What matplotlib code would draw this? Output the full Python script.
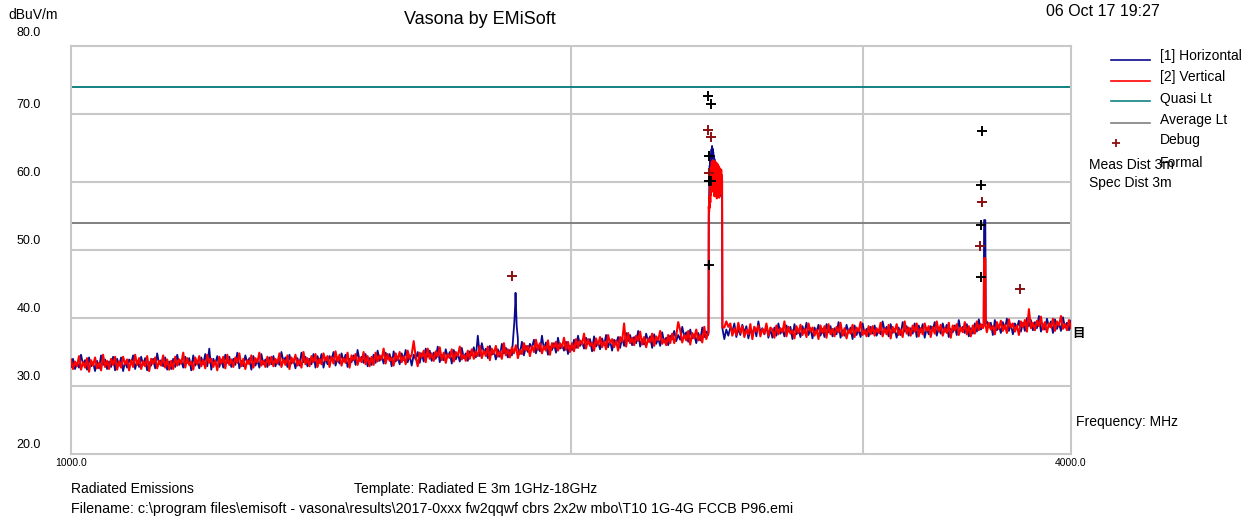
import numpy as np
import matplotlib
matplotlib.use("Agg")
import matplotlib.pyplot as plt
from matplotlib.lines import Line2D

plt.rcParams['font.family'] = ['Liberation Sans', 'DejaVu Sans']

# ---- sweep range (MHz) and limits (dBuV/m) ----
START_MHZ, STOP_MHZ = 1000.0, 4000.0
QUASI_LIMIT = 74.0
AVERAGE_LIMIT = 54.0

y_ticks = [20, 30, 40, 50, 60, 70, 80]
y_tick_labels = ['20.0', '30.0', '40.0', '50.0', '60.0', '70.0', '80.0']
x_grid = [2000, 3000]
x_tick_labels = ['1000.0', '4000.0']

# ---- noise floor of each polarisation, evenly spaced on the log frequency axis ----
h_floor = [
    32.8, 34.0, 32.5, 33.4, 32.7, 34.6, 33.2, 33.8, 32.4, 34.2, 32.9, 33.5, 32.2, 33.7, 32.6, 34.5, 33.1, 33.9, 32.5, 33.6, 32.8, 34.3, 32.3, 34.0, 33.0,
    34.2, 32.2, 33.6, 32.7, 33.9, 33.3, 34.5, 32.5, 33.7, 32.8, 34.3, 33.1, 34.1, 32.3, 33.5, 33.0, 34.0, 32.6, 34.8, 33.2, 33.8, 32.9, 34.2, 32.4, 33.6,
    32.5, 34.0, 32.8, 34.6, 33.1, 33.8, 32.7, 34.3, 33.4, 34.1, 32.3, 34.5, 33.0, 33.7, 32.6, 34.2, 33.2, 34.7, 32.9, 35.5, 32.4, 34.0, 33.3, 34.4, 32.8,
    33.9, 32.7, 34.6, 33.4, 34.3, 32.8, 34.0, 33.1, 34.9, 32.6, 33.7, 32.9, 34.5, 33.3, 34.1, 32.4, 34.4, 33.0, 33.8, 32.7, 34.7, 33.2, 33.9, 32.8, 34.2,
    33.2, 34.4, 32.9, 33.8, 33.1, 35.0, 33.6, 34.2, 32.8, 34.6, 33.3, 33.9, 32.6, 34.1, 33.0, 34.9, 33.5, 34.3, 32.9, 34.0, 33.2, 34.7, 32.7, 34.4, 33.4,
    34.7, 32.7, 34.1, 33.2, 34.4, 33.8, 35.0, 33.0, 34.2, 33.3, 34.8, 33.6, 34.6, 32.8, 34.0, 33.5, 34.5, 33.1, 35.3, 33.7, 34.3, 33.4, 34.7, 32.9, 34.1,
    33.1, 34.6, 33.4, 35.2, 33.7, 34.4, 33.3, 34.9, 34.0, 34.7, 32.9, 35.1, 33.6, 34.3, 33.2, 34.8, 33.8, 35.3, 33.5, 34.5, 33.0, 34.6, 33.9, 35.0, 33.4,
    34.8, 33.6, 35.5, 34.3, 35.2, 33.7, 34.9, 34.0, 35.8, 33.5, 34.6, 33.8, 35.4, 34.2, 35.0, 33.3, 35.3, 33.9, 34.7, 33.6, 35.6, 34.1, 34.8, 33.7, 35.1,
    34.5, 35.7, 34.2, 37.4, 34.4, 36.3, 34.9, 35.5, 34.1, 35.9, 34.6, 35.2, 33.9, 35.4, 34.3, 36.2, 34.8, 35.6, 34.2, 35.3, 34.5, 36.0, 34.0, 35.7, 34.7,
    36.5, 34.5, 35.9, 35.0, 36.2, 35.6, 36.8, 34.8, 36.0, 35.1, 37.4, 35.4, 36.4, 34.6, 35.8, 35.3, 36.3, 34.9, 37.1, 35.5, 36.1, 35.2, 36.5, 34.7, 35.9,
    35.3, 36.8, 35.6, 37.4, 35.9, 36.6, 35.5, 37.1, 36.2, 36.9, 35.1, 37.3, 35.8, 36.5, 35.4, 37.0, 36.0, 37.5, 35.7, 36.7, 35.2, 36.8, 36.1, 37.2, 35.6,
    37.1, 35.9, 37.8, 36.6, 37.5, 36.0, 37.2, 36.3, 38.1, 35.8, 36.9, 36.1, 37.7, 36.5, 37.3, 35.6, 37.6, 36.2, 37.0, 35.9, 37.9, 36.4, 37.1, 36.0, 37.4,
    36.9, 38.1, 36.6, 37.5, 36.8, 38.7, 37.3, 37.9, 36.5, 38.3, 37.0, 37.6, 36.3, 37.8, 36.7, 38.6, 37.2, 38.0, 37.5, 38.1, 37.6, 38.4, 37.9, 38.2, 37.8,
    38.9, 36.9, 38.3, 37.4, 38.6, 38.0, 39.2, 37.2, 38.4, 37.5, 39.0, 37.8, 38.8, 37.0, 38.2, 37.7, 38.7, 37.3, 39.5, 37.9, 38.5, 37.6, 38.9, 37.1, 38.3,
    37.1, 38.6, 37.4, 39.2, 37.7, 38.4, 37.3, 38.9, 38.0, 38.7, 36.9, 39.1, 37.6, 38.3, 37.2, 38.8, 37.8, 39.3, 37.5, 38.5, 37.0, 38.6, 37.9, 39.0, 37.4,
    38.4, 37.2, 39.1, 37.9, 38.8, 37.3, 38.5, 37.6, 39.4, 37.1, 38.2, 37.4, 39.0, 37.8, 38.6, 36.9, 38.9, 37.5, 38.3, 37.2, 39.2, 37.7, 38.4, 37.3, 38.7,
    37.7, 38.9, 37.4, 38.3, 37.6, 39.5, 38.1, 38.7, 37.3, 39.1, 37.8, 38.4, 37.1, 38.6, 37.5, 39.4, 38.0, 38.8, 37.4, 38.5, 37.7, 39.2, 37.2, 38.9, 37.9,
    39.1, 37.1, 38.5, 37.6, 38.8, 38.2, 39.4, 37.4, 38.6, 37.7, 39.2, 38.0, 39.0, 37.2, 38.4, 37.9, 38.9, 37.5, 39.7, 38.1, 38.7, 37.8, 39.1, 37.3, 38.5,
    37.7, 39.2, 38.0, 39.8, 38.3, 39.0, 37.9, 39.5, 38.6, 39.3, 37.5, 39.7, 38.2, 38.9, 37.8, 39.4, 38.4, 39.9, 38.1, 39.1, 37.6, 39.2, 38.5, 39.6, 38.0,
    39.3, 38.1, 40.0, 38.8, 39.7, 38.2, 39.4, 38.5, 40.3, 38.0, 39.1, 38.3, 39.9, 38.7, 39.5, 37.8, 39.8, 38.4, 39.2, 38.1, 40.1, 38.6, 39.3, 38.2, 39.6,
]

v_floor = [
    33.9, 32.5, 33.6, 32.9, 34.4, 32.4, 33.5, 32.7, 34.1, 32.1, 33.8, 33.0, 34.2, 32.6, 33.4, 32.3, 34.6, 32.8, 33.7, 32.5, 34.0, 33.1, 34.3, 32.4, 33.6,
    32.7, 34.3, 33.2, 33.9, 32.3, 33.8, 32.8, 34.6, 33.1, 34.1, 32.5, 33.6, 32.9, 34.4, 32.2, 34.0, 33.3, 34.2, 32.6, 33.7, 33.0, 34.5, 32.7, 33.9, 32.4,
    33.7, 32.5, 34.3, 33.0, 33.9, 33.3, 34.9, 32.7, 34.1, 33.1, 33.6, 32.4, 34.2, 33.2, 34.4, 32.9, 33.8, 32.6, 34.6, 33.4, 34.0, 32.8, 33.7, 32.3, 34.3,
    33.3, 34.3, 32.6, 34.6, 33.1, 33.9, 32.8, 34.2, 33.4, 34.8, 32.9, 34.0, 32.5, 33.8, 33.2, 34.5, 32.7, 34.1, 33.5, 34.9, 33.0, 33.7, 32.8, 34.3, 33.1,
    34.3, 32.9, 34.0, 33.3, 34.8, 32.8, 33.9, 33.1, 34.5, 32.5, 34.2, 33.4, 34.6, 33.0, 33.8, 32.7, 35.0, 33.2, 34.1, 32.9, 34.4, 33.5, 34.7, 32.8, 34.0,
    33.2, 34.8, 33.7, 34.4, 32.8, 34.3, 33.3, 35.1, 33.6, 34.6, 33.0, 34.1, 33.4, 34.9, 32.7, 34.5, 33.8, 34.7, 33.1, 34.2, 33.5, 35.0, 33.2, 34.4, 32.9,
    34.3, 33.1, 34.9, 33.6, 34.5, 33.9, 35.5, 33.3, 34.7, 33.7, 34.2, 33.0, 34.8, 33.8, 35.0, 33.5, 34.4, 33.2, 35.2, 34.0, 34.6, 36.6, 34.3, 32.9, 34.9,
    34.2, 35.2, 33.5, 35.5, 34.0, 34.8, 33.7, 35.1, 34.3, 35.7, 33.8, 34.9, 33.4, 34.7, 34.1, 35.4, 33.6, 35.0, 34.4, 35.8, 33.9, 34.6, 33.7, 35.2, 34.0,
    35.4, 34.0, 35.1, 34.4, 35.9, 34.1, 35.2, 34.4, 35.8, 33.8, 35.5, 34.7, 35.9, 34.3, 35.1, 34.0, 36.3, 34.5, 35.4, 34.2, 35.7, 34.8, 36.0, 34.1, 35.3,
    34.7, 36.3, 35.2, 35.9, 34.4, 35.9, 35.0, 36.8, 35.3, 36.3, 34.8, 35.9, 35.2, 36.7, 34.6, 36.3, 35.6, 36.5, 35.2, 36.3, 35.6, 37.1, 35.3, 36.5, 35.0,
    36.3, 35.1, 36.9, 35.6, 36.7, 36.1, 37.7, 35.5, 36.9, 35.9, 36.4, 35.2, 37.0, 36.0, 37.2, 35.7, 36.6, 35.4, 37.5, 36.3, 36.9, 35.7, 36.7, 35.2, 37.2,
    36.5, 39.2, 35.8, 37.8, 36.3, 37.1, 36.0, 37.4, 36.6, 38.0, 36.1, 37.2, 35.7, 37.0, 36.4, 37.7, 35.9, 37.3, 36.7, 38.1, 36.2, 36.9, 36.0, 37.5, 36.3,
    37.7, 36.3, 37.4, 39.4, 38.2, 36.4, 37.5, 36.7, 38.1, 36.1, 37.8, 37.0, 38.3, 36.7, 37.5, 36.4, 38.7, 36.9, 37.8, 37.0, 38.0, 37.6, 38.2, 37.5, 38.0,
    37.8, 38.6, 39.5, 38.7, 39.2, 37.4, 38.5, 37.5, 39.3, 37.8, 38.8, 37.2, 38.3, 37.6, 39.1, 36.9, 38.7, 38.0, 38.9, 37.3, 38.4, 37.7, 39.2, 37.4, 38.6,
    38.3, 37.1, 38.9, 37.6, 38.5, 37.9, 39.5, 37.3, 38.7, 37.7, 38.2, 37.0, 38.8, 37.8, 39.0, 37.5, 38.4, 37.2, 39.2, 38.0, 38.6, 37.4, 38.3, 36.9, 38.9,
    37.8, 38.8, 37.1, 39.1, 37.6, 38.4, 37.3, 38.7, 37.9, 39.3, 37.4, 38.5, 37.0, 38.3, 37.7, 39.0, 37.2, 38.6, 38.0, 39.4, 37.5, 38.2, 37.3, 38.8, 37.6,
    38.8, 37.4, 38.5, 37.8, 39.3, 37.3, 38.4, 37.6, 39.0, 37.0, 38.7, 37.9, 39.1, 37.5, 38.3, 37.2, 39.5, 37.7, 38.6, 37.4, 38.9, 38.0, 39.2, 37.3, 38.5,
    37.6, 39.2, 38.1, 38.8, 37.2, 38.7, 37.7, 39.5, 38.0, 39.0, 37.4, 38.5, 37.8, 39.3, 37.1, 38.9, 38.2, 39.1, 37.5, 38.6, 37.9, 39.4, 37.6, 38.8, 37.3,
    38.9, 37.7, 39.5, 38.2, 39.1, 38.5, 40.1, 37.9, 39.3, 38.3, 38.8, 37.6, 39.4, 38.4, 39.6, 38.1, 39.0, 37.8, 39.8, 38.6, 39.2, 38.0, 38.9, 37.5, 39.5,
    38.7, 39.7, 38.0, 41.3, 38.5, 39.3, 38.2, 39.6, 38.8, 40.2, 38.3, 39.4, 37.9, 39.2, 38.6, 39.9, 38.1, 39.5, 38.9, 40.3, 38.4, 39.1, 38.2, 39.7, 38.5,
]

# ---- emissions above the floor (MHz, dBuV/m) ----
spur1_freq_h = [1846, 1849, 1851, 1852, 1853, 1855, 1858]
spur1_level_h = [37.2, 39.5, 41.8, 43.7, 42.0, 38.8, 37.0]

band_freq = list(range(2420, 2468))
band_level_h = [
    37.9, 55.0, 57.5, 59.8, 62.4, 61.2, 63.5, 62.0, 64.1, 63.0, 64.8, 63.6, 65.3, 64.2, 64.9, 63.5,
    64.4, 62.8, 63.9, 62.5, 63.4, 61.8, 63.0, 61.5, 62.6, 60.4, 62.1, 59.8, 61.7, 59.5, 61.2, 58.9,
    60.8, 59.4, 60.5, 58.7, 60.2, 59.0, 60.6, 58.5, 60.0, 58.2, 59.6, 57.9, 59.1, 58.0, 58.6, 38.5,
]
band_level_v = [
    38.0, 56.4, 55.6, 57.9, 56.2, 59.4, 57.0, 60.8, 58.1, 62.2, 59.0, 62.9, 60.3, 63.1, 58.6, 62.5,
    61.0, 63.2, 59.8, 62.7, 57.9, 62.4, 60.6, 63.0, 58.4, 62.1, 60.2, 62.8, 57.6, 61.9, 59.5, 62.6,
    58.8, 61.5, 60.0, 62.3, 57.7, 61.6, 59.2, 62.0, 58.3, 61.4, 59.6, 61.8, 58.9, 61.0, 60.2, 38.6,
]

spur2_freq = [3544, 3546, 3552, 3554]
spur2_level_h = [39.0, 54.4, 54.4, 39.2]
spur2_level_v = [38.8, 48.8, 48.8, 38.9]

# ---- measured points ----
debug_freq = [1842, 2417, 2428, 2420, 3536, 3528, 3725]
debug_level = [46.2, 67.7, 66.6, 61.3, 57.1, 50.6, 44.2]
formal_freq = [2419, 2428, 2423, 2421, 2427, 2423, 3536, 3530, 3533, 3530]
formal_level = [72.7, 71.5, 63.8, 60.2, 60.2, 47.8, 67.5, 59.5, 53.7, 46.0]


def build_trace(floor, bursts):
    """Merge the floor sweep with the emission segments into one trace."""
    f = np.geomspace(START_MHZ, STOP_MHZ, len(floor))
    v = np.asarray(floor, float)
    keep = np.ones(len(f), bool)
    for bf, _ in bursts:
        keep &= ~((f > min(bf)) & (f < max(bf)))
    f_all = np.concatenate([f[keep]] + [np.asarray(bf, float) for bf, _ in bursts])
    v_all = np.concatenate([v[keep]] + [np.asarray(bv, float) for _, bv in bursts])
    order = np.argsort(f_all, kind='stable')
    return f_all[order], v_all[order]


h_f, h_v = build_trace(h_floor, [(spur1_freq_h, spur1_level_h),
                                 (band_freq, band_level_h),
                                 (spur2_freq, spur2_level_h)])
v_f, v_v = build_trace(v_floor, [(band_freq, band_level_v),
                                 (spur2_freq, spur2_level_v)])

# ---- figure ----
W, H = 1246, 520
fig = plt.figure(figsize=(W / 100, H / 100), dpi=100)
L, R, T, B = 71, 1071, 46, 454
ax = fig.add_axes([L / W, 1 - B / H, (R - L) / W, (B - T) / H])

ax.set_xscale('log')
ax.set_xlim(START_MHZ, STOP_MHZ)
ax.set_ylim(20, 80)
ax.set_xticks(x_grid)
ax.xaxis.set_minor_locator(matplotlib.ticker.NullLocator())
ax.set_yticks(y_ticks[1:-1])
ax.tick_params(which='both', length=0, labelbottom=False, labelleft=False)
ax.grid(True, color='#c8c8c8', lw=1.5)
ax.set_axisbelow(True)
for s in ax.spines.values():
    s.set_color('#c8c8c8')
    s.set_linewidth(1.5)

ax.axhline(QUASI_LIMIT, color='#128282', lw=1.4, zorder=2)
ax.axhline(AVERAGE_LIMIT, color='#808080', lw=1.4, zorder=2)

ax.plot(h_f, h_v, color='#0a0a8c', lw=1.3, zorder=3)
ax.plot(v_f, v_v, color='#ff0000', lw=1.5, zorder=4)

ax.plot(debug_freq, debug_level, ls='none', marker='+', ms=7, mew=1.4,
        color='#8b1010', zorder=6)
ax.plot(formal_freq, formal_level, ls='none', marker='+', ms=7, mew=1.4,
        color='#000000', zorder=6)

# axis labels in the instrument style
ytr = ax.get_yaxis_transform()
for val, lab in zip(y_ticks, y_tick_labels):
    off = 1.9 if val == 80 else 1.35
    ax.text(-0.030, val + off, lab, transform=ytr, ha='right', va='center',
            fontsize=9, clip_on=False)
xtr = ax.get_xaxis_transform()
for val, lab in zip([START_MHZ, STOP_MHZ], x_tick_labels):
    ax.text(val, -0.022, lab, transform=xtr, ha='center', va='center',
            fontsize=7.5, clip_on=False)


def ft(x, y, s, **kw):
    kw.setdefault('fontsize', 10)
    fig.text(x / W, 1 - y / H, s, va='center', **kw)


ft(8, 15, 'dBuV/m')
ft(480, 20, 'Vasona by EMiSoft', ha='center', fontsize=13)
ft(1046, 12, '06 Oct 17 19:27', fontsize=11.5)

legend_rows = [
    ('[1] Horizontal', '#0a0a8c', 60, 56),
    ('[2] Vertical', '#ff0000', 81, 77),
    ('Quasi Lt', '#128282', 101, 99),
    ('Average Lt', '#808080', 123, 120),
]
for label, col, ly, ty in legend_rows:
    fig.add_artist(Line2D([1111 / W, 1150 / W], [1 - ly / H, 1 - ly / H],
                          color=col, lw=1.2))
    ft(1160, ty, label)
fig.add_artist(Line2D([1116 / W], [1 - 143 / H], ls='none', marker='+',
                      ms=6, mew=1.3, color='#8b1010'))
ft(1160, 140, 'Debug')
ft(1089, 165, 'Meas Dist 3m')
ft(1160, 163, 'Formal')
ft(1089, 183, 'Spec Dist 3m')
ft(1079, 333, '目', ha='center', fontsize=9, fontweight='bold',
   family=['Noto Sans CJK SC', 'DejaVu Sans'])

ft(1076, 422, 'Frequency: MHz')
ft(71, 489, 'Radiated Emissions')
ft(354, 489, 'Template: Radiated E 3m 1GHz-18GHz')
ft(71, 509, 'Filename: c:\\program files\\emisoft - vasona\\results\\2017-0xxx '
   'fw2qqwf cbrs 2x2w mbo\\T10 1G-4G FCCB P96.emi', fontsize=10.3)

fig.savefig('out.png', dpi=100)
